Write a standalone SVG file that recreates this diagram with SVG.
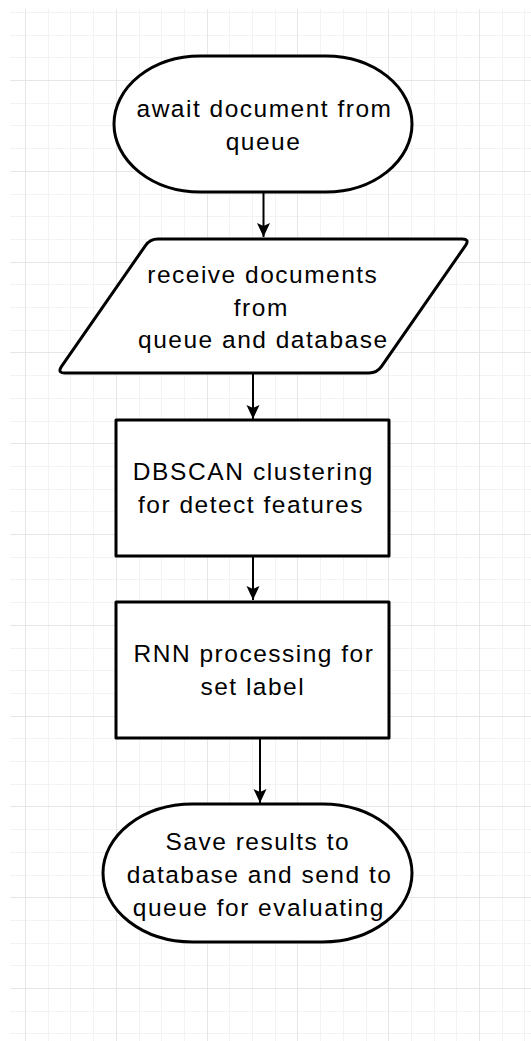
<svg xmlns="http://www.w3.org/2000/svg" width="531" height="1041" viewBox="0 0 531 1041">
<defs>
<style>
.minor{stroke:#f3f3f3;stroke-width:1;fill:none}
.major{stroke:#e6e6e6;stroke-width:1;fill:none}
.shape{fill:#ffffff;stroke:#000000;stroke-width:3;stroke-linejoin:round}
.edge{stroke:#000000;stroke-width:2;fill:none}
.label{font-family:"Liberation Sans",Arial,sans-serif;font-size:24.5px;letter-spacing:1.5px;fill:#000000;text-anchor:middle}
</style>
<marker id="arrow" markerUnits="userSpaceOnUse" markerWidth="16" markerHeight="16" refX="14" refY="7" orient="auto" viewBox="0 0 16 16">
<path d="M0,0.5 L14,7 L0,13.5 L3,7 Z" fill="#000000"/>
</marker>
</defs>
<rect x="0" y="0" width="531" height="1041" fill="#ffffff"/>
<g id="grid">
<path class="minor" d="M48.5 9V1041M70.5 9V1041M93.5 9V1041M139.5 9V1041M161.5 9V1041M184.5 9V1041M229.5 9V1041M252.5 9V1041M275.5 9V1041M320.5 9V1041M343.5 9V1041M366.5 9V1041M411.5 9V1041M434.5 9V1041M456.5 9V1041M502.5 9V1041M524.5 9V1041
M10 12.5H531M10 35.5H531M10 57.5H531M10 103.5H531M10 125.5H531M10 148.5H531M10 194.5H531M10 216.5H531M10 239.5H531M10 284.5H531M10 307.5H531M10 330.5H531M10 375.5H531M10 398.5H531M10 421.5H531M10 466.5H531M10 489.5H531M10 511.5H531M10 557.5H531M10 579.5H531M10 602.5H531M10 648.5H531M10 670.5H531M10 693.5H531M10 738.5H531M10 761.5H531M10 784.5H531M10 829.5H531M10 852.5H531M10 875.5H531M10 920.5H531M10 943.5H531M10 965.5H531M10 1011.5H531M10 1033.5H531"/>
<path class="major" d="M25.5 9V1041M116.5 9V1041M207.5 9V1041M297.5 9V1041M388.5 9V1041M479.5 9V1041
M10 80.5H531M10 171.5H531M10 262.5H531M10 352.5H531M10 443.5H531M10 534.5H531M10 625.5H531M10 716.5H531M10 806.5H531M10 897.5H531M10 988.5H531"/>
</g>
<g id="connectors">
<path class="edge" d="M263.5 193V237" marker-end="url(#arrow)"/>
<path class="edge" d="M253 374V419" marker-end="url(#arrow)"/>
<path class="edge" d="M253 557V600" marker-end="url(#arrow)"/>
<path class="edge" d="M260 739V803" marker-end="url(#arrow)"/>
</g>
<g id="node-await">
<path class="shape" d="M200.4 56H325.6A86.4 68 0 0 1 325.6 192H200.4A86.4 68 0 0 1 200.4 56Z"/>
<text class="label" x="264.5" y="117">await document from</text>
<text class="label" x="263.5" y="150">queue</text>
</g>
<g id="node-receive">
<path class="shape" d="M158 239H462Q470 239 465.44 245.58L381.56 366.42Q377 373 369 373H65Q57 373 61.56 366.42L145.44 245.58Q150 239 158 239Z"/>
<text class="label" x="262.8" y="282.5">receive documents</text>
<text class="label" x="261.3" y="315.5">from</text>
<text class="label" x="263.3" y="348">queue and database</text>
</g>
<g id="node-dbscan">
<rect class="shape" x="116" y="420" width="273" height="136"/>
<text class="label" x="253.3" y="480" textLength="241" lengthAdjust="spacing">DBSCAN clustering</text>
<text class="label" x="251" y="513">for detect features</text>
</g>
<g id="node-rnn">
<rect class="shape" x="116" y="602" width="273" height="136"/>
<text class="label" x="254" y="662">RNN processing for</text>
<text class="label" x="252.8" y="695">set label</text>
</g>
<g id="node-save">
<path class="shape" d="M192.6 804H322.4A89.6 69 0 0 1 322.4 942H192.6A89.6 69 0 0 1 192.6 804Z"/>
<text class="label" x="257.8" y="850">Save results to</text>
<text class="label" x="259.5" y="883">database and send to</text>
<text class="label" x="258.8" y="916">queue for evaluating</text>
</g>
</svg>
